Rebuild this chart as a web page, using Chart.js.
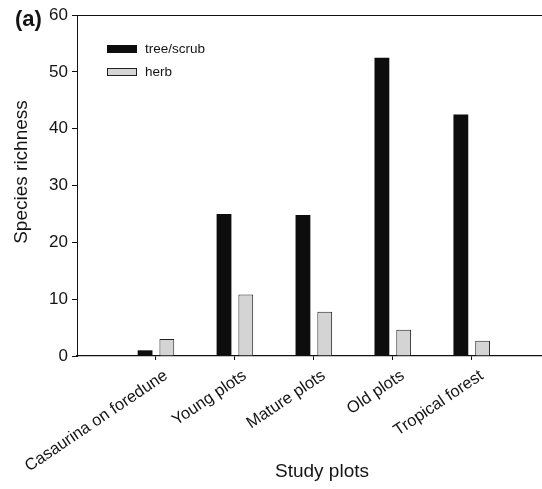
<!DOCTYPE html>
<html>
<head>
<meta charset="utf-8">
<script src="https://cdn.jsdelivr.net/npm/chart.js@4/dist/chart.umd.min.js"></script>
<style>
  html, body { margin: 0; padding: 0; background: #fff; }
  #wrap { width: 542px; height: 489px; }
</style>
</head>
<body>
<div id="wrap"><canvas id="c" width="542" height="489"></canvas></div>
<script>
// Study plots along the dune chronosequence
const categories = ['Casaurina on foredune', 'Young plots', 'Mature plots', 'Old plots', 'Tropical forest'];
const treeScrub = [1, 25, 24.8, 52.5, 42.5];
const herb = [3, 10.8, 7.8, 4.6, 2.7];
const yTicks = [0, 10, 20, 30, 40, 50, 60];
const seriesNames = ['tree/scrub', 'herb'];
const xTitle = 'Study plots';
const yTitle = 'Species richness';

const FONT = '"Liberation Sans", Arial, Helvetica, sans-serif';
const INK = '#141414';

// categories sit at positions 1..n on a linear axis
const toPoints = vals => vals.map((v, i) => ({ x: i + 1, y: v }));

// legend drawn inside the plot area, top-left
const insideLegend = {
  id: 'insideLegend',
  afterDraw(chart) {
    const { ctx, chartArea } = chart;
    const x0 = chartArea.left + 30;
    let y0 = chartArea.top + 30;
    ctx.save();
    ctx.font = '13.5px ' + FONT;
    ctx.textBaseline = 'middle';
    chart.data.datasets.forEach(ds => {
      ctx.fillStyle = ds.backgroundColor;
      ctx.fillRect(x0, y0, 30, 8);
      if (ds.borderWidth) {
        ctx.strokeStyle = ds.borderColor;
        ctx.lineWidth = 1;
        ctx.strokeRect(x0 + 0.5, y0 + 0.5, 29, 7);
      }
      ctx.fillStyle = INK;
      ctx.fillText(ds.label, x0 + 38, y0 + 4);
      y0 += 23;
    });
    ctx.restore();
  }
};

// panel letter and the two axis titles
const annotations = {
  id: 'annotations',
  afterDraw(chart) {
    const ctx = chart.ctx;
    ctx.save();
    ctx.fillStyle = INK;
    ctx.font = 'bold 22px ' + FONT;
    ctx.textBaseline = 'alphabetic';
    ctx.textAlign = 'left';
    ctx.fillText('(a)', 15, 26);

    ctx.font = '19px ' + FONT;
    ctx.textAlign = 'center';
    ctx.textBaseline = 'middle';
    ctx.fillText(xTitle, 322, 472);

    ctx.translate(22, 172);
    ctx.rotate(-Math.PI / 2);
    ctx.fillText(yTitle, 0, 0);
    ctx.restore();
  }
};

new Chart(document.getElementById('c'), {
  type: 'bar',
  data: {
    datasets: [
      {
        label: seriesNames[0],
        data: toPoints(treeScrub),
        backgroundColor: '#0d0d0d',
        borderWidth: 0
      },
      {
        label: seriesNames[1],
        data: toPoints(herb),
        backgroundColor: '#d4d4d4',
        borderColor: '#222',
        borderWidth: 1
      }
    ]
  },
  options: {
    responsive: false,
    animation: false,
    devicePixelRatio: 1,
    categoryPercentage: 0.62,
    barPercentage: 0.68,
    layout: { padding: { top: 15, right: 0, left: 0, bottom: 0 } },
    plugins: {
      legend: { display: false },
      tooltip: { enabled: false }
    },
    scales: {
      x: {
        type: 'linear',
        min: 0,
        max: 5.89,
        offset: false,
        afterFit(scale) {
          scale.height = 133;
          scale.paddingLeft = 0;
          scale.paddingRight = 0;
        },
        border: { display: true, color: '#111', width: 1.3 },
        grid: {
          offset: false,
          drawOnChartArea: false,
          drawTicks: true,
          tickLength: 4,
          tickColor: ctx => {
            const v = ctx.tick && ctx.tick.value;
            return (Number.isInteger(v) && v >= 1 && v <= categories.length) ? '#111' : 'rgba(0,0,0,0)';
          }
        },
        ticks: {
          stepSize: 1,
          autoSkip: false,
          minRotation: 34,
          maxRotation: 34,
          padding: 6,
          labelOffset: 10,
          color: INK,
          font: { family: FONT, size: 16.5 },
          callback: v => (Number.isInteger(v) && v >= 1 && v <= categories.length) ? categories[v - 1] : ''
        },
        title: { display: false }
      },
      y: {
        min: 0,
        max: 60,
        afterFit(scale) { scale.width = 77; },
        afterBuildTicks(scale) { scale.ticks = yTicks.map(v => ({ value: v })); },
        border: { display: true, color: '#111', width: 1 },
        grid: {
          drawOnChartArea: true,
          tickLength: 5,
          tickColor: '#111',
          color: ctx => (ctx.tick && ctx.tick.value === 60) ? '#111' : 'rgba(0,0,0,0)'
        },
        ticks: {
          padding: 4,
          color: INK,
          font: { family: FONT, size: 17 }
        },
        title: { display: false }
      }
    }
  },
  plugins: [insideLegend, annotations]
});
</script>
</body>
</html>
